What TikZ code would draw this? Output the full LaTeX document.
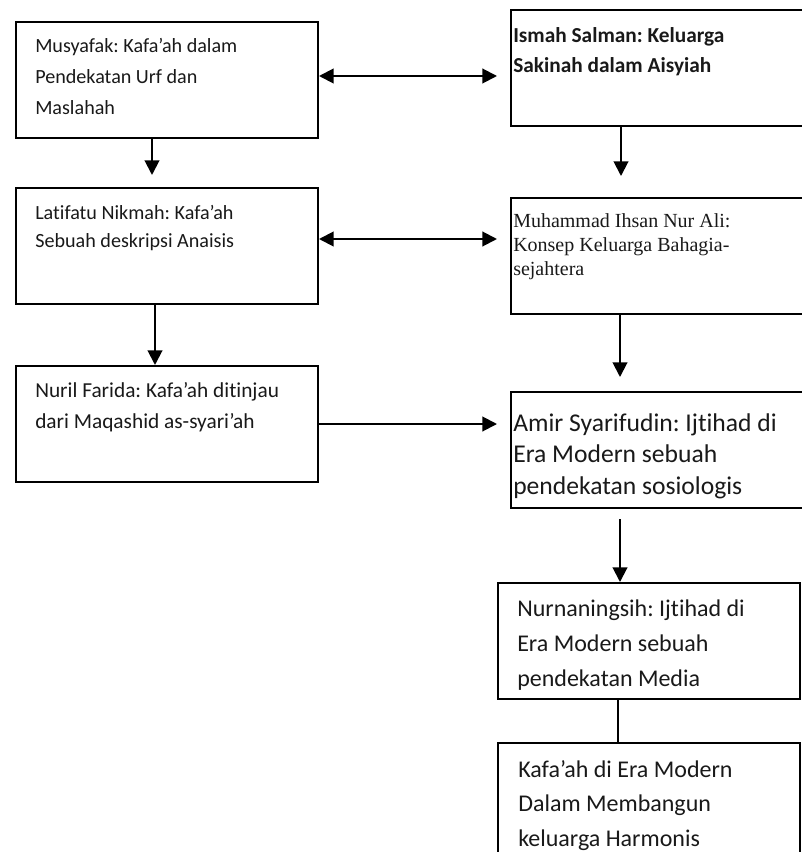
\documentclass[tikz,border=0pt]{standalone}
\usepackage{fontspec}
\setmainfont{Carlito}[Ligatures=NoCommon]
\newfontfamily\serifentry{Liberation Serif}
\usetikzlibrary{arrows.meta,calc}
\frenchspacing
\tikzstyle{panel}=[draw,line width=1.5pt,anchor=north west,inner sep=0pt,minimum width=226.5pt,minimum height=87pt]
\tikzstyle{widepanel}=[panel,minimum width=232.5pt]
\tikzstyle{entry}=[anchor=north west,inner sep=0pt,align=left,text=black!90]
\tikzstyle{flow}=[draw,line width=1.5pt,-{Triangle[width=11pt,length=11pt]}]
\tikzstyle{dflow}=[draw,line width=1.5pt,{Triangle[width=11pt,length=11pt]}-{Triangle[width=11pt,length=11pt]}]
\tikzstyle{link}=[draw,line width=1.5pt]

\begin{document}
\begin{tikzpicture}[x=0.75pt,y=-0.75pt]

    \useasboundingbox (0,0) rectangle (802,852);
    \clip (0,0) rectangle (802,852);

    % left column and bottom pair
    \foreach \x/\y/\name in {15/21/musyafak, 15/187/latifatu, 15/365/nuril, 497/582/nurnaningsih, 497/742/kafaah}
        \node[panel] (\name) at (\x,\y) {};

    % right column, runs past the edge
    \foreach \x/\y/\name in {510/9/ismah, 510/197/ihsan, 510/391/amir}
        \node[widepanel] (\name) at (\x,\y) {};

    \node[entry, font=\fontsize{15.1}{23.25}\selectfont] (musyafak-txt) at ([shift={(20,17)}]musyafak.north west)
        {Musyafak: Kafa’ah dalam\\Pendekatan Urf dan\\Maslahah};
    \node[entry, font=\fontsize{15.1}{21}\selectfont] (latifatu-txt) at ([shift={(20,18)}]latifatu.north west)
        {Latifatu Nikmah: Kafa’ah\\Sebuah deskripsi Anaisis};
    \node[entry, font=\fontsize{16}{23.75}\selectfont] (nuril-txt) at ([shift={(20,17)}]nuril.north west)
        {Nuril Farida: Kafa’ah ditinjau\\dari Maqashid as-syari’ah};
    \node[entry, font=\fontsize{16}{22.5}\selectfont\bfseries] (ismah-txt) at ([shift={(3,18)}]ismah.north west)
        {Ismah Salman: Keluarga\\Sakinah dalam Aisyiah};
    \node[entry, font=\fontsize{15}{18}\serifentry] (ihsan-txt) at ([shift={(3,16)}]ihsan.north west)
        {Muhammad Ihsan Nur Ali:\\Konsep Keluarga Bahagia-\\sejahtera};
    \node[entry, font=\fontsize{19.2}{23.8}\selectfont] (amir-txt) at ([shift={(3,22)}]amir.north west)
        {Amir Syarifudin: Ijtihad di\\Era Modern sebuah\\pendekatan sosiologis};
    \node[entry, font=\fontsize{18}{26}\selectfont] (nurnaningsih-txt) at ([shift={(20,18)}]nurnaningsih.north west)
        {Nurnaningsih: Ijtihad di\\Era Modern sebuah\\pendekatan Media};
    \node[entry, font=\fontsize{18}{26}\selectfont] (kafaah-txt) at ([shift={(21,18)}]kafaah.north west)
        {Kafa’ah di Era Modern\\Dalam Membangun\\keluarga Harmonis};

    % across
    \path[dflow, shorten >=9.75pt] ($(musyafak.east)+(0,-4)$) -- ($(musyafak.east -| ismah.west)+(0,-4)$);
    \path[dflow, shorten >=9.75pt] ($(latifatu.east)+(0,-7)$) -- ($(latifatu.east -| ihsan.west)+(0,-7)$);
    \path[flow, shorten >=9.75pt] (nuril.east) -- (nuril.east -| amir.west);

    % down
    \path[flow, shorten >=9pt] ($(musyafak.south west)+(137,0)$) -- ($(latifatu.north west)+(137,0)$);
    \path[flow] ($(latifatu.south west)+(140,0)$) -- ($(nuril.north west)+(140,0)$);
    \path[flow, shorten >=15.75pt] ($(ismah.south west)+(111,0)$) -- ($(ihsan.north west)+(111,0)$);
    \path[flow, shorten >=10.5pt] ($(ihsan.south west)+(110,0)$) -- ($(amir.north west)+(110,0)$);
    \path[flow, shorten <=7.5pt] ($(amir.south west)+(110,0)$) -- ($(nurnaningsih.north west)+(123,0)$);
    \path[link] ($(nurnaningsih.south west)+(121,0)$) -- ($(kafaah.north west)+(121,0)$);

\end{tikzpicture}
\end{document}
